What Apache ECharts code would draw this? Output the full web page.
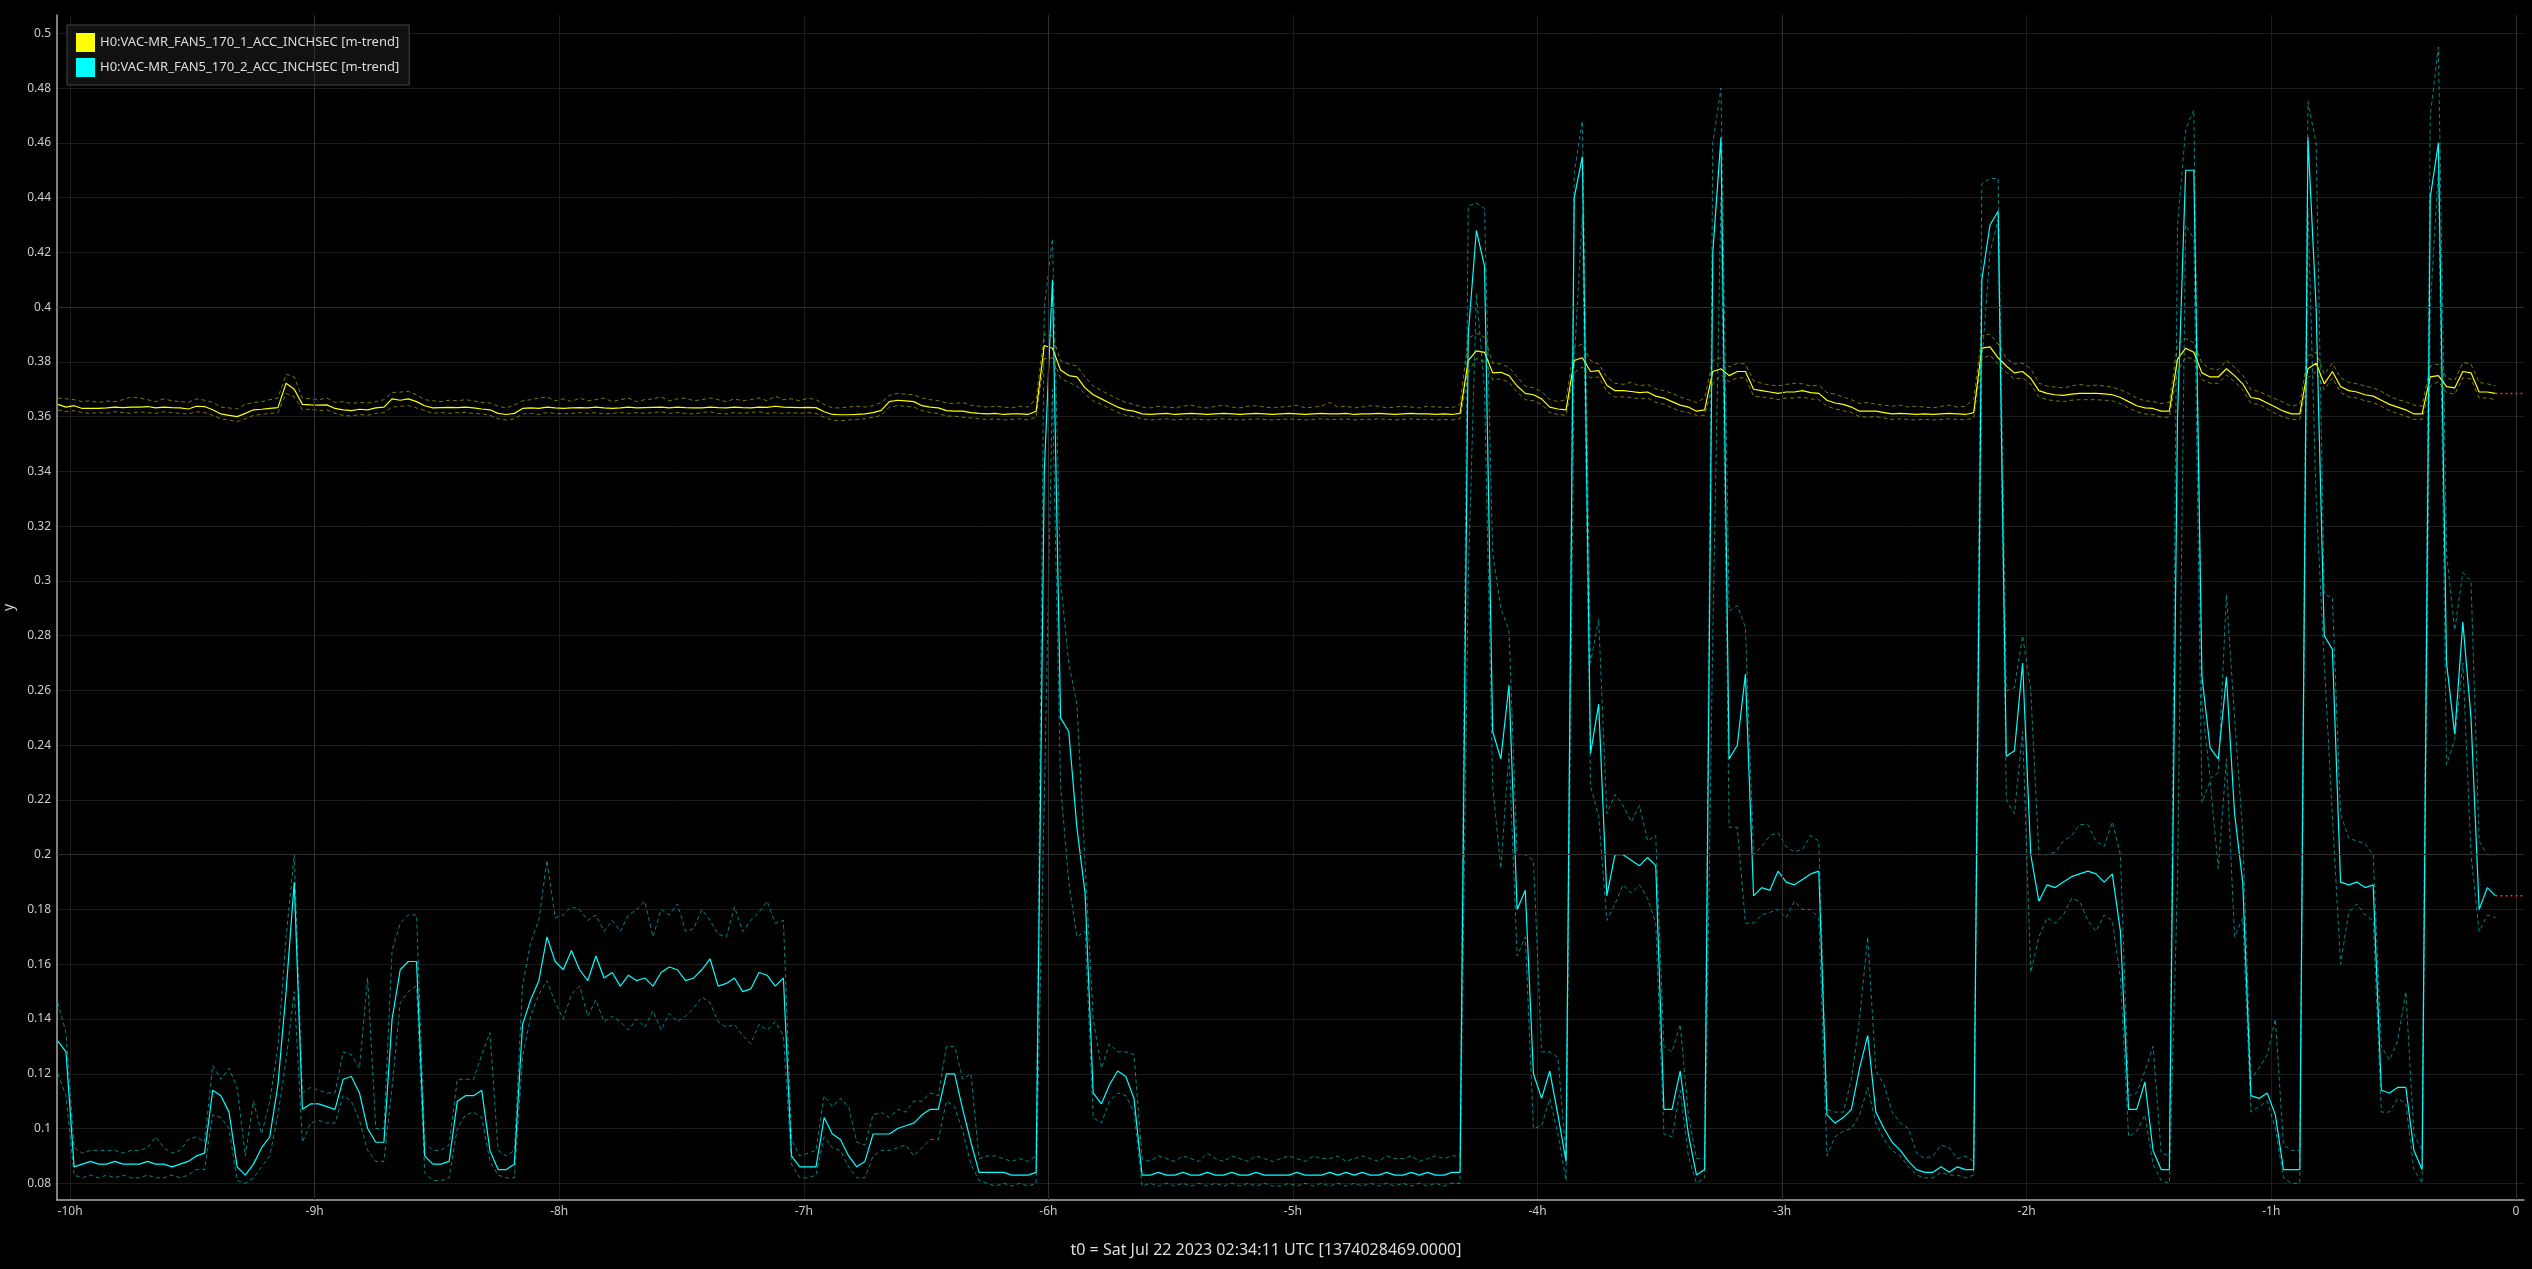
<!DOCTYPE html>
<html><head><meta charset="utf-8">
<script src="https://cdn.jsdelivr.net/npm/echarts@6/dist/echarts.min.js"></script>
<style>html,body{margin:0;padding:0;background:#000;overflow:hidden}#c{width:2532px;height:1269px}</style>
</head><body><div id="c"></div>
<script>
// time grid: minutes relative to t0 (2-minute trend samples)
const T0 = -603, STEP = 2;
const xTicks = [-600,-540,-480,-420,-360,-300,-240,-180,-120,-60,0];
const xMajor = [-540,-360,-180,0];
const yTicks = [0.08,0.1,0.12,0.14,0.16,0.18,0.2,0.22,0.24,0.26,0.28,0.3,0.32,0.34,0.36,0.38,0.4,0.42,0.44,0.46,0.48,0.5];
const yMajor = [0.2,0.4];
const names = ['H0:VAC-MR_FAN5_170_1_ACC_INCHSEC [m-trend]','H0:VAC-MR_FAN5_170_2_ACC_INCHSEC [m-trend]'];
const titleText = 't0 = Sat Jul 22 2023 02:34:11 UTC [1374028469.0000]';

const yelMean = [
0.3645,0.3635,0.364,0.363,0.363,0.363,0.3632,0.3635,0.3633,0.3635,
0.3635,0.3637,0.3632,0.3635,0.3633,0.3632,0.3628,0.3638,0.3637,0.3625,
0.361,0.3605,0.360,0.3612,0.3625,0.3627,0.363,0.3633,0.3722,0.370,
0.3645,0.3643,0.3642,0.3643,0.363,0.3625,0.3622,0.3627,0.3625,0.3632,
0.3635,0.3665,0.366,0.3665,0.3655,0.364,0.3632,0.3633,0.3634,0.3633,
0.3635,0.3632,0.3628,0.3625,0.3612,0.3608,0.3612,0.363,0.3632,0.363,
0.3635,0.3632,0.363,0.3632,0.3633,0.3632,0.3635,0.3632,0.363,0.3632,
0.3635,0.3632,0.3633,0.3634,0.3635,0.3632,0.3635,0.3633,0.3632,0.3632,
0.3635,0.3633,0.3632,0.3635,0.3633,0.3632,0.3635,0.3634,0.3638,0.3635,
0.3634,0.3633,0.3634,0.3633,0.3618,0.3608,0.3607,0.3607,0.3608,0.361,
0.3615,0.3623,0.3655,0.366,0.3658,0.3655,0.364,0.3635,0.3632,0.3622,
0.362,0.362,0.3615,0.3612,0.361,0.3612,0.3608,0.361,0.361,0.3608,
0.362,0.386,0.385,0.377,0.375,0.3745,0.3705,0.368,0.3665,0.365,
0.3635,0.3625,0.362,0.361,0.3608,0.361,0.3612,0.3608,0.361,0.3612,
0.361,0.3608,0.361,0.3612,0.361,0.3608,0.361,0.3612,0.361,0.3608,
0.361,0.3612,0.361,0.3608,0.361,0.3612,0.361,0.361,0.3612,0.3608,
0.361,0.361,0.3612,0.361,0.3608,0.361,0.3612,0.361,0.361,0.3608,
0.361,0.3608,0.3612,0.3805,0.384,0.3835,0.376,0.3762,0.375,0.3712,
0.3685,0.368,0.3665,0.3635,0.3628,0.3625,0.3805,0.3815,0.3765,0.3768,
0.3715,0.3695,0.3695,0.3692,0.3688,0.369,0.3675,0.3668,0.3655,0.3642,
0.3635,0.362,0.3625,0.3765,0.3775,0.375,0.3765,0.3765,0.370,0.3695,
0.369,0.3685,0.369,0.369,0.3695,0.3688,0.3685,0.366,0.365,0.3645,
0.3635,0.362,0.362,0.362,0.3615,0.361,0.3612,0.361,0.3608,0.361,
0.3608,0.361,0.3612,0.361,0.3608,0.3615,0.385,0.3855,0.3815,0.3785,
0.376,0.3765,0.374,0.3695,0.3685,0.368,0.3678,0.3682,0.3685,0.3685,
0.3685,0.3683,0.368,0.367,0.3655,0.364,0.3632,0.363,0.362,0.362,
0.381,0.385,0.3835,0.376,0.3745,0.3745,0.3775,0.375,0.372,0.367,
0.3665,0.365,0.3635,0.362,0.361,0.361,0.3775,0.3795,0.372,0.3765,
0.371,0.3695,0.369,0.368,0.3675,0.366,0.3645,0.3635,0.3625,0.361,
0.361,0.3745,0.375,0.371,0.3705,0.3765,0.376,0.369,0.369,0.3685];

const yelMax = [
0.3668,0.3665,0.3662,0.3655,0.3658,0.3652,0.3657,0.3655,0.3662,0.3672,
0.3668,0.3662,0.3655,0.3665,0.3658,0.3655,0.3652,0.3665,0.366,0.3652,
0.3635,0.3632,0.3628,0.3645,0.3652,0.3655,0.3662,0.3668,0.3755,0.3745,
0.3668,0.3665,0.3662,0.3668,0.3652,0.3655,0.3648,0.3652,0.365,0.3655,
0.3662,0.3688,0.369,0.3692,0.368,0.3662,0.3658,0.3655,0.366,0.3658,
0.3662,0.3658,0.3652,0.365,0.3638,0.3632,0.3642,0.3658,0.3662,0.3668,
0.3672,0.3658,0.3665,0.3655,0.3668,0.3658,0.3662,0.3668,0.3655,0.3662,
0.3668,0.3655,0.3662,0.3665,0.3672,0.3658,0.3665,0.3668,0.3658,0.3662,
0.3668,0.3662,0.3655,0.3665,0.3658,0.3662,0.3668,0.3658,0.3675,0.3662,
0.3665,0.3658,0.3668,0.3662,0.3645,0.3632,0.3632,0.3635,0.3638,0.3635,
0.364,0.3652,0.3678,0.3685,0.3682,0.368,0.3668,0.3662,0.3658,0.365,
0.3648,0.3652,0.3642,0.3638,0.3635,0.3638,0.3635,0.3632,0.3638,0.3635,
0.3665,0.390,0.3895,0.3805,0.3792,0.3785,0.3745,0.3712,0.3695,0.368,
0.3665,0.3652,0.3645,0.3635,0.3632,0.3638,0.3635,0.3632,0.3638,0.3642,
0.3635,0.3632,0.3638,0.3642,0.3635,0.3632,0.3638,0.364,0.3635,0.3632,
0.3635,0.3638,0.3642,0.3632,0.3635,0.3638,0.3652,0.3635,0.3638,0.3632,
0.3635,0.364,0.3638,0.3632,0.3635,0.3638,0.3635,0.3632,0.3638,0.3635,
0.3635,0.3632,0.3645,0.3885,0.3905,0.389,0.3795,0.3792,0.378,0.3745,
0.3712,0.3705,0.3692,0.3662,0.3655,0.3662,0.3852,0.3865,0.3805,0.3792,
0.3745,0.3722,0.3718,0.3725,0.3712,0.3718,0.3702,0.3695,0.3685,0.3672,
0.3662,0.3652,0.3668,0.3805,0.3815,0.3782,0.3795,0.3792,0.373,0.3722,
0.3715,0.3712,0.3718,0.3722,0.372,0.3712,0.3715,0.3688,0.3682,0.3672,
0.3662,0.3648,0.3652,0.3645,0.3642,0.3638,0.3642,0.3635,0.3638,0.3635,
0.3632,0.3638,0.3642,0.3635,0.3638,0.3665,0.3895,0.3902,0.3865,0.3812,
0.3792,0.3795,0.3775,0.3722,0.3712,0.3708,0.3705,0.3712,0.3718,0.3712,
0.3715,0.3712,0.3708,0.3698,0.3685,0.3668,0.3658,0.3655,0.3648,0.3652,
0.3865,0.3885,0.387,0.3795,0.3775,0.3772,0.3805,0.378,0.3752,0.3698,
0.3692,0.3678,0.3665,0.3652,0.3638,0.3645,0.3822,0.3835,0.3755,0.3795,
0.3742,0.3725,0.372,0.3712,0.3705,0.3692,0.3675,0.3662,0.3655,0.3642,
0.3638,0.3785,0.3792,0.3742,0.3732,0.3798,0.3792,0.3725,0.372,0.3712];

const yelMin = [
0.3625,0.3618,0.3622,0.3615,0.3612,0.3615,0.3612,0.3618,0.3615,0.3612,
0.3618,0.3615,0.3612,0.3618,0.3615,0.3612,0.361,0.3618,0.3615,0.3605,
0.3592,0.3588,0.3582,0.3592,0.3605,0.3608,0.3612,0.3615,0.3685,0.3672,
0.3625,0.3628,0.3622,0.3625,0.3612,0.3605,0.3602,0.3608,0.3605,0.3612,
0.3615,0.3635,0.3638,0.364,0.3632,0.3622,0.3612,0.3615,0.3612,0.3615,
0.3615,0.3612,0.361,0.3605,0.3592,0.3588,0.3592,0.361,0.3612,0.3608,
0.3615,0.3612,0.361,0.3612,0.3615,0.3612,0.3615,0.361,0.3612,0.3615,
0.3612,0.3615,0.3612,0.3615,0.3618,0.3612,0.3615,0.3612,0.361,0.3615,
0.3618,0.3612,0.361,0.3615,0.3612,0.3615,0.3618,0.3612,0.3615,0.3612,
0.3615,0.3612,0.3615,0.3612,0.3598,0.3588,0.3585,0.3588,0.359,0.3592,
0.3598,0.3605,0.3635,0.364,0.3638,0.3635,0.3622,0.3615,0.3612,0.3602,
0.3602,0.3598,0.3595,0.3592,0.359,0.3592,0.3588,0.359,0.3592,0.3588,
0.3598,0.3812,0.3815,0.374,0.3725,0.3712,0.3682,0.3658,0.3645,0.363,
0.3615,0.3605,0.36,0.3592,0.3588,0.359,0.3592,0.3588,0.359,0.3592,
0.359,0.3588,0.359,0.3592,0.359,0.3588,0.359,0.3592,0.359,0.3588,
0.359,0.3592,0.359,0.3588,0.359,0.3592,0.359,0.359,0.3592,0.3588,
0.359,0.359,0.3592,0.359,0.3588,0.359,0.3592,0.359,0.359,0.3588,
0.359,0.3588,0.3592,0.376,0.3812,0.3802,0.3735,0.3738,0.3725,0.369,
0.3662,0.3658,0.3645,0.3615,0.3608,0.3605,0.376,0.3782,0.3742,0.3745,
0.3692,0.3672,0.3672,0.367,0.3665,0.3668,0.3652,0.3645,0.3632,0.362,
0.3615,0.3605,0.3605,0.372,0.3752,0.3728,0.3742,0.3742,0.3675,0.3672,
0.3668,0.3662,0.3668,0.3668,0.3672,0.3665,0.3662,0.3638,0.3628,0.3622,
0.3615,0.36,0.3598,0.36,0.3595,0.359,0.3592,0.359,0.3588,0.359,
0.3588,0.359,0.3592,0.359,0.3588,0.3595,0.3812,0.3825,0.3792,0.3762,
0.3738,0.3742,0.3718,0.3672,0.3662,0.3658,0.3655,0.366,0.3662,0.3662,
0.3662,0.366,0.3658,0.3648,0.3632,0.3618,0.361,0.3608,0.3598,0.3598,
0.3765,0.3818,0.381,0.3735,0.3722,0.3722,0.3752,0.3728,0.3698,0.3648,
0.3645,0.3628,0.3612,0.3598,0.359,0.359,0.3742,0.3765,0.3698,0.3742,
0.3688,0.3672,0.3668,0.3658,0.3652,0.3638,0.3622,0.3612,0.3602,0.359,
0.359,0.3712,0.3728,0.3688,0.3682,0.3742,0.3738,0.3668,0.3668,0.3662];

const cyMean = [
0.132,0.128,0.086,0.087,0.088,0.087,0.087,0.088,0.087,0.087,
0.087,0.088,0.087,0.087,0.086,0.087,0.088,0.090,0.091,0.114,
0.112,0.106,0.086,0.083,0.087,0.093,0.097,0.116,0.150,0.190,
0.107,0.109,0.109,0.108,0.107,0.118,0.119,0.113,0.100,0.095,
0.095,0.140,0.158,0.161,0.161,0.090,0.087,0.087,0.088,0.110,
0.112,0.112,0.114,0.092,0.085,0.085,0.087,0.138,0.147,0.154,
0.170,0.161,0.158,0.165,0.158,0.154,0.163,0.155,0.157,0.152,
0.156,0.154,0.155,0.152,0.157,0.159,0.158,0.154,0.155,0.158,
0.162,0.152,0.153,0.155,0.150,0.151,0.157,0.156,0.152,0.155,
0.090,0.086,0.086,0.086,0.104,0.098,0.096,0.090,0.086,0.088,
0.098,0.098,0.098,0.100,0.101,0.102,0.105,0.107,0.107,0.120,
0.120,0.107,0.095,0.084,0.084,0.084,0.084,0.083,0.083,0.083,
0.084,0.340,0.410,0.250,0.245,0.210,0.186,0.113,0.109,0.116,
0.121,0.119,0.111,0.083,0.083,0.084,0.083,0.083,0.084,0.083,
0.083,0.084,0.083,0.083,0.084,0.083,0.083,0.084,0.083,0.083,
0.083,0.083,0.084,0.083,0.083,0.083,0.084,0.083,0.084,0.083,
0.084,0.083,0.083,0.084,0.083,0.083,0.084,0.083,0.084,0.083,
0.083,0.084,0.084,0.390,0.428,0.415,0.245,0.235,0.262,0.180,
0.187,0.120,0.111,0.121,0.105,0.088,0.440,0.455,0.237,0.255,
0.185,0.200,0.200,0.198,0.196,0.199,0.196,0.107,0.107,0.121,
0.098,0.083,0.085,0.420,0.462,0.235,0.240,0.266,0.185,0.188,
0.187,0.194,0.190,0.189,0.191,0.193,0.194,0.105,0.102,0.104,
0.107,0.122,0.134,0.106,0.100,0.095,0.092,0.088,0.085,0.084,
0.084,0.086,0.084,0.086,0.085,0.085,0.410,0.430,0.435,0.236,
0.238,0.270,0.200,0.183,0.189,0.188,0.190,0.192,0.193,0.194,
0.193,0.190,0.193,0.172,0.107,0.107,0.117,0.092,0.085,0.085,
0.360,0.450,0.450,0.265,0.239,0.235,0.265,0.215,0.190,0.112,
0.111,0.113,0.105,0.085,0.085,0.085,0.462,0.400,0.280,0.275,
0.190,0.189,0.190,0.188,0.189,0.114,0.113,0.115,0.115,0.092,
0.085,0.440,0.460,0.270,0.244,0.285,0.250,0.180,0.188,0.185];

const cyMax = [
0.146,0.135,0.093,0.091,0.092,0.092,0.092,0.092,0.091,0.092,
0.092,0.093,0.097,0.093,0.091,0.092,0.096,0.097,0.095,0.123,
0.118,0.122,0.115,0.090,0.110,0.098,0.110,0.130,0.170,0.200,
0.113,0.115,0.114,0.113,0.113,0.128,0.127,0.122,0.155,0.100,
0.100,0.165,0.175,0.178,0.178,0.095,0.092,0.092,0.094,0.118,
0.118,0.118,0.127,0.135,0.092,0.090,0.092,0.152,0.168,0.176,
0.198,0.177,0.178,0.181,0.180,0.176,0.178,0.172,0.176,0.172,
0.178,0.180,0.183,0.170,0.180,0.178,0.182,0.172,0.173,0.180,
0.176,0.171,0.170,0.181,0.172,0.176,0.179,0.183,0.175,0.176,
0.096,0.090,0.091,0.092,0.112,0.108,0.111,0.108,0.095,0.094,
0.105,0.106,0.104,0.107,0.106,0.110,0.110,0.113,0.112,0.130,
0.130,0.118,0.120,0.089,0.090,0.090,0.089,0.088,0.089,0.088,
0.090,0.400,0.425,0.300,0.270,0.255,0.197,0.140,0.122,0.131,
0.128,0.128,0.127,0.089,0.088,0.090,0.089,0.088,0.090,0.089,
0.088,0.091,0.089,0.088,0.090,0.089,0.088,0.090,0.089,0.088,
0.089,0.090,0.089,0.088,0.090,0.089,0.089,0.090,0.088,0.089,
0.090,0.089,0.088,0.090,0.089,0.089,0.090,0.088,0.089,0.090,
0.089,0.090,0.090,0.437,0.438,0.436,0.310,0.290,0.282,0.200,
0.200,0.198,0.128,0.128,0.126,0.090,0.449,0.468,0.270,0.286,
0.215,0.222,0.218,0.212,0.218,0.205,0.207,0.130,0.128,0.138,
0.105,0.089,0.089,0.460,0.480,0.289,0.291,0.283,0.200,0.203,
0.207,0.208,0.203,0.201,0.202,0.207,0.205,0.107,0.106,0.106,
0.118,0.140,0.170,0.121,0.116,0.106,0.102,0.100,0.091,0.089,
0.090,0.094,0.093,0.089,0.090,0.088,0.445,0.447,0.447,0.260,
0.261,0.280,0.260,0.200,0.200,0.201,0.205,0.207,0.211,0.211,
0.205,0.203,0.212,0.200,0.112,0.113,0.121,0.130,0.091,0.090,
0.430,0.465,0.472,0.255,0.228,0.230,0.295,0.250,0.208,0.118,
0.122,0.127,0.140,0.094,0.092,0.092,0.475,0.460,0.295,0.294,
0.215,0.206,0.205,0.204,0.200,0.130,0.125,0.132,0.150,0.098,
0.092,0.470,0.495,0.310,0.282,0.303,0.300,0.205,0.200,0.200];

const cyMin = [
0.120,0.112,0.083,0.082,0.083,0.082,0.083,0.082,0.083,0.082,
0.082,0.083,0.082,0.082,0.083,0.082,0.083,0.085,0.085,0.105,
0.104,0.100,0.081,0.080,0.082,0.086,0.090,0.105,0.125,0.150,
0.095,0.102,0.103,0.102,0.102,0.112,0.110,0.103,0.092,0.088,
0.088,0.115,0.146,0.150,0.152,0.084,0.081,0.081,0.082,0.100,
0.105,0.106,0.104,0.088,0.083,0.082,0.082,0.126,0.141,0.149,
0.154,0.146,0.140,0.149,0.152,0.141,0.147,0.139,0.141,0.139,
0.136,0.140,0.137,0.143,0.136,0.142,0.139,0.141,0.144,0.148,
0.146,0.139,0.137,0.138,0.134,0.131,0.138,0.136,0.139,0.134,
0.087,0.082,0.082,0.083,0.097,0.093,0.092,0.086,0.082,0.082,
0.090,0.092,0.092,0.093,0.094,0.090,0.093,0.096,0.096,0.110,
0.108,0.099,0.087,0.081,0.080,0.079,0.080,0.079,0.080,0.079,
0.080,0.220,0.370,0.225,0.190,0.170,0.172,0.104,0.102,0.110,
0.113,0.112,0.106,0.079,0.080,0.079,0.080,0.079,0.080,0.079,
0.080,0.079,0.080,0.079,0.080,0.079,0.080,0.079,0.080,0.079,
0.079,0.080,0.079,0.080,0.079,0.080,0.079,0.080,0.079,0.080,
0.079,0.080,0.079,0.080,0.079,0.080,0.079,0.080,0.079,0.080,
0.079,0.080,0.080,0.300,0.405,0.370,0.225,0.195,0.237,0.163,
0.170,0.100,0.101,0.111,0.098,0.081,0.380,0.434,0.225,0.214,
0.176,0.182,0.189,0.186,0.189,0.184,0.175,0.098,0.097,0.114,
0.090,0.080,0.082,0.280,0.440,0.210,0.210,0.175,0.175,0.178,
0.179,0.180,0.177,0.183,0.180,0.180,0.177,0.090,0.097,0.099,
0.100,0.105,0.115,0.102,0.096,0.092,0.090,0.086,0.083,0.082,
0.082,0.084,0.083,0.083,0.082,0.083,0.380,0.420,0.432,0.220,
0.215,0.245,0.157,0.170,0.177,0.175,0.178,0.184,0.183,0.176,
0.172,0.178,0.176,0.155,0.097,0.099,0.105,0.087,0.081,0.080,
0.190,0.430,0.425,0.219,0.227,0.195,0.235,0.170,0.177,0.106,
0.108,0.110,0.100,0.082,0.080,0.080,0.436,0.330,0.270,0.214,
0.160,0.179,0.182,0.178,0.176,0.106,0.106,0.111,0.109,0.085,
0.080,0.400,0.450,0.233,0.242,0.270,0.200,0.172,0.178,0.177];

const X_MIN = -603.2, X_MAX = 2.0, Y_MIN = 0.0739, Y_MAX = 0.5067;

function pts(arr){ return arr.map((v,i)=>[T0 + i*STEP, v]); }
function tail(arr){ const t = T0 + (arr.length-1)*STEP; const v = arr[arr.length-1]; return [[t,v],[X_MAX,v]]; }

const YEL = '#ffff00', CY = '#00ffff';
const FONT = 'Noto Sans';

function meanS(name, arr, col, z){
  return {name, type:'line', data:pts(arr), showSymbol:false, symbol:'none', z,
    lineStyle:{color:col, width:1.2}, itemStyle:{color:col}, emphasis:{disabled:true}};
}
function envS(name, arr, col, z){
  return {name, type:'line', data:pts(arr), showSymbol:false, symbol:'none', z,
    lineStyle:{color:col, width:1, type:[4,3]}, itemStyle:{color:col}, emphasis:{disabled:true}};
}
function tailS(name, arr){
  return {name, type:'line', data:tail(arr), showSymbol:false, symbol:'none', z:5,
    lineStyle:{color:'#ff2a2a', width:1.5, type:[2,3]}, emphasis:{disabled:true}};
}

const majorLines = xMajor.map(v=>({xAxis:v})).concat(yMajor.map(v=>({yAxis:v})));

const chart = echarts.init(document.getElementById('c'), null, {renderer:'canvas'});
chart.setOption({
  backgroundColor:'#000',
  animation:false,
  textStyle:{fontFamily:FONT},
  title:{text:titleText, left:'center', top:1237,
    textStyle:{color:'#dddddd', fontSize:16, fontWeight:'normal', fontFamily:FONT}},
  grid:{left:57, right:8, top:15, bottom:69, containLabel:false, outerBoundsMode:'none'},
  legend:{
    data:[{name:names[0], icon:'rect'},{name:names[1], icon:'rect'}],
    orient:'vertical', left:67, top:25, itemWidth:19, itemHeight:19, itemGap:6,
    padding:[8,10,8,9], backgroundColor:'#111111', borderColor:'#444444', borderWidth:1,
    textStyle:{color:'#dddddd', fontSize:13, fontFamily:FONT}, selectedMode:false
  },
  xAxis:{
    type:'value', min:X_MIN, max:X_MAX,
    axisLine:{show:true, onZero:false, lineStyle:{color:'#aaaaaa', width:1.5}},
    axisTick:{show:false, customValues:xTicks},
    axisLabel:{customValues:xTicks, color:'#cccccc', fontSize:12, margin:6, fontFamily:FONT,
      formatter:v => v === 0 ? '0' : (v/60) + 'h'},
    splitLine:{show:true, lineStyle:{color:'#1c1c1c', width:1}}
  },
  yAxis:{
    type:'value', min:Y_MIN, max:Y_MAX,
    name:'y', nameLocation:'middle', nameGap:40, nameRotate:90,
    nameTextStyle:{color:'#cccccc', fontSize:14, fontFamily:FONT},
    axisLine:{show:true, onZero:false, lineStyle:{color:'#aaaaaa', width:1.5}},
    axisTick:{show:false, customValues:yTicks},
    axisLabel:{customValues:yTicks, color:'#cccccc', fontSize:12, margin:6, fontFamily:FONT,
      formatter:v => String(+v.toFixed(2))},
    splitLine:{show:true, lineStyle:{color:'#1c1c1c', width:1}}
  },
  series:[
    {name:'major grid', type:'line', data:[], z:1, silent:true,
     markLine:{silent:true, symbol:['none','none'], animation:false, label:{show:false},
       lineStyle:{color:'#303030', width:1, type:'solid'}, emphasis:{disabled:true}, data:majorLines}},
    meanS(names[0], yelMean, YEL, 4),
    envS('yel max', yelMax, 'rgba(200,200,0,0.6)', 3),
    envS('yel min', yelMin, 'rgba(200,200,0,0.6)', 3),
    meanS(names[1], cyMean, CY, 4),
    envS('cy max', cyMax, 'rgba(0,190,190,0.7)', 3),
    envS('cy min', cyMin, 'rgba(0,190,190,0.7)', 3),
    tailS('yel pending', yelMean),
    tailS('cy pending', cyMean)
  ]
});
</script></body></html>
